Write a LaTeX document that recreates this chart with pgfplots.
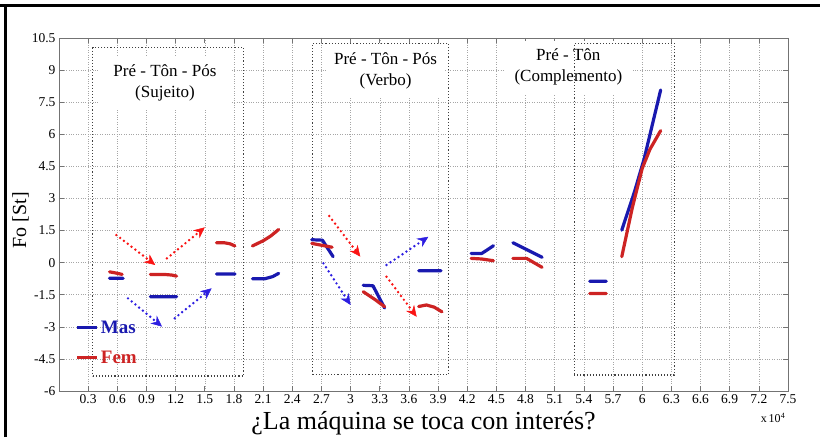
\documentclass[border=0pt]{standalone}
\usepackage{pgfplots}
\pgfplotsset{compat=1.18}
\usepackage{pgfplotstable}
\usepackage{fontspec}
\setmainfont{Liberation Serif}
\usetikzlibrary{arrows.meta}

\definecolor{masblue}{RGB}{25,25,175}
\definecolor{femred}{RGB}{205,35,35}
\definecolor{arrred}{RGB}{250,20,20}
\definecolor{arrblue}{RGB}{45,30,225}

% Mas (masculino)
\pgfplotstableread{
x y
0.52 -0.73
0.66 -0.73
nan nan
0.94 -1.59
1.21 -1.59
nan nan
1.62 -0.53
1.81 -0.53
nan nan
1.99 -0.75
2.12 -0.75
2.20 -0.65
2.26 -0.50
nan nan
2.60 1.07
2.71 1.05
2.82 0.28
nan nan
3.13 -1.06
3.23 -1.08
3.35 -2.12
nan nan
3.70 -0.38
3.93 -0.38
nan nan
4.24 0.43
4.35 0.43
4.47 0.79
nan nan
4.67 0.93
4.97 0.25
nan nan
5.46 -0.87
5.63 -0.87
nan nan
5.79 1.52
5.92 3.30
6.02 4.85
6.19 8.07
}\mas

% Fem (feminino)
\pgfplotstableread{
x y
0.52 -0.43
0.58 -0.48
0.65 -0.55
nan nan
0.94 -0.55
1.08 -0.55
1.16 -0.58
1.21 -0.63
nan nan
1.62 0.93
1.70 0.93
1.76 0.88
1.81 0.78
nan nan
1.99 0.78
2.10 1.02
2.18 1.25
2.26 1.55
nan nan
2.60 0.90
2.81 0.72
nan nan
3.13 -1.36
3.25 -1.72
3.35 -2.06
nan nan
3.70 -2.05
3.78 -1.98
3.86 -2.08
3.94 -2.30
nan nan
4.24 0.20
4.35 0.17
4.47 0.09
nan nan
4.67 0.20
4.81 0.20
4.97 -0.22
nan nan
5.46 -1.44
5.63 -1.44
nan nan
5.79 0.28
5.90 2.60
6.00 4.40
6.08 5.30
6.19 6.17
}\fem

\begin{document}
\begin{tikzpicture}
\path[use as bounding box] (0pt,0pt) rectangle (820pt,437pt);
\draw[line width=3pt] (0pt,431.2pt) -- (820pt,431.2pt);
\draw[line width=3pt] (5.8pt,0pt) -- (5.8pt,432.7pt);
\begin{axis}[
  at={(59pt,46pt)}, anchor=south west,
  scale only axis, width=729pt, height=353pt,
  xmin=0, xmax=7.5, ymin=-6, ymax=10.5,
  xtick={0.3,0.6,0.9,1.2,1.5,1.8,2.1,2.4,2.7,3,3.3,3.6,3.9,4.2,4.5,4.8,5.1,5.4,5.7,6,6.3,6.6,6.9,7.2,7.5},
  ytick={-6,-4.5,-3,-1.5,0,1.5,3,4.5,6,7.5,9,10.5},
  scaled ticks=false,
  /pgf/number format/assume math mode=true,
  grid=major,
  major grid style={dotted, gray!70, line width=0.5pt},
  tick align=inside, major tick length=5pt,
  axis line style={black!55},
  tick style={black!55, line width=0.6pt},
  tick label style={font=\fontsize{13.5}{13.5}\selectfont},
  unbounded coords=jump,
  xlabel={¿La máquina se toca con interés?},
  xlabel style={at={(axis description cs:0.5,0)}, anchor=base, yshift=-38pt, font=\fontsize{26}{26}\selectfont},
  ylabel={Fo [St]},
  ylabel style={at={(axis description cs:-0.045,0.484)}, anchor=base, font=\fontsize{20}{20}\selectfont},
  legend style={at={(axis cs:0.17,-3.75)}, anchor=west, draw=none, fill=none,
    inner sep=0pt, row sep=12pt, font=\fontsize{19}{19}\selectfont\bfseries,
    /tikz/every even column/.append style={column sep=1pt}},
  legend cell align=left,
  legend image code/.code={\draw[#1, line width=3.2pt] (3pt,0pt) -- (23pt,0pt);},
]
% caixas de texto
\node[align=center, fill=white, inner xsep=14pt, inner ysep=8pt, font=\fontsize{17}{21}\selectfont]
  at (axis cs:1.09,8.42) {Pré - Tôn - Pós\\(Sujeito)};
\node[align=center, fill=white, inner xsep=7pt, inner ysep=8pt, font=\fontsize{17}{21.5}\selectfont]
  at (axis cs:3.36,8.96) {Pré - Tôn - Pós\\(Verbo)};
\node[align=center, fill=white, inner xsep=11pt, inner ysep=8pt, font=\fontsize{17}{21.5}\selectfont]
  at (axis cs:5.24,9.14) {Pré - Tôn\\(Complemento)};

% caixas pontilhadas
\addplot[black!75, dotted, line width=1.1pt, forget plot] coordinates {(0.347,-5.30) (1.896,-5.30) (1.896,10.05) (0.347,10.05) (0.347,-5.30)};
\addplot[black!75, dotted, line width=1.1pt, forget plot] coordinates {(2.61,-5.21) (4.01,-5.21) (4.01,10.25) (2.61,10.25) (2.61,-5.21)};
\addplot[black!75, dotted, line width=1.1pt, forget plot] coordinates {(5.30,-5.25) (6.33,-5.25) (6.33,10.25) (5.30,10.25) (5.30,-5.25)};

% setas
\pgfplotsset{arrowsty/.style={line width=2.7pt, dash pattern=on 0pt off 4.8pt, line cap=round,
  -{Stealth[length=11pt, width=10pt, inset=3.5pt, line width=0.5pt]}, forget plot}}
\addplot[arrred, arrowsty] coordinates {(0.59,1.29) (0.99,-0.11)};
\addplot[arrred, arrowsty] coordinates {(1.11,0.20) (1.50,1.65)};
\addplot[arrred, arrowsty] coordinates {(2.78,2.18) (3.10,0.28)};
\addplot[arrred, arrowsty] coordinates {(3.37,-0.66) (3.68,-2.53)};
\addplot[arrblue, arrowsty] coordinates {(0.71,-1.67) (1.06,-2.99)};
\addplot[arrblue, arrowsty] coordinates {(1.19,-2.60) (1.57,-1.20)};
\addplot[arrblue, arrowsty] coordinates {(2.72,-0.03) (3.00,-1.98)};
\addplot[arrblue, arrowsty] coordinates {(3.37,-0.11) (3.80,1.21)};

% dados
\addplot[masblue, line width=3.2pt, line cap=round, line join=round, forget plot] table {\mas};
\addplot[femred, line width=3.2pt, line cap=round, line join=round, forget plot] table {\fem};

\addlegendimage{masblue}
\addlegendentry{\textcolor{masblue}{Mas}}
\addlegendimage{femred}
\addlegendentry{\textcolor{femred}{Fem}}
\end{axis}
\node[font=\fontsize{12}{12}\selectfont] at (773pt,19pt) {x\,10\textsuperscript{4}};
\end{tikzpicture}
\end{document}
